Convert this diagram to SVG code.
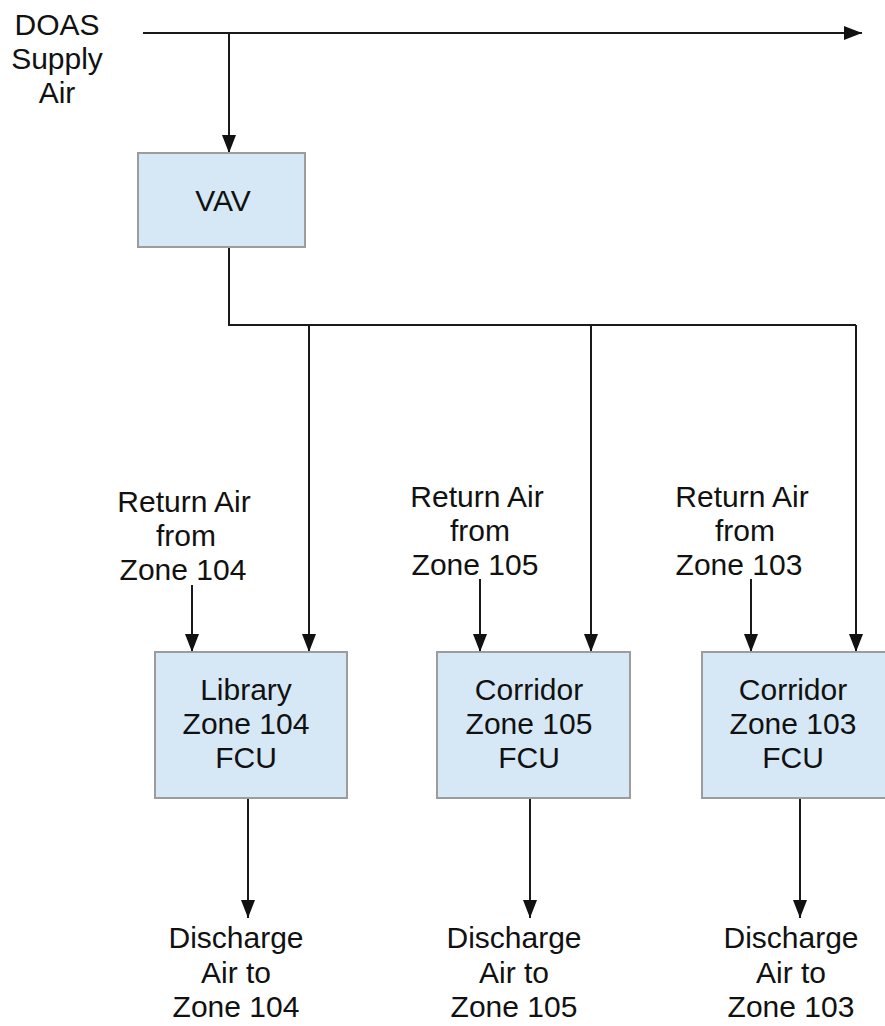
<svg xmlns="http://www.w3.org/2000/svg" width="885" height="1026" viewBox="0 0 885 1026">
<style>
.t{font-family:"Liberation Sans",Arial,sans-serif;font-size:30px;fill:#111;text-anchor:middle}
.box{fill:#d6e8f5;stroke:#9c9c9c;stroke-width:2}
.ln{fill:none;stroke:#1a1a1a;stroke-width:2}
</style>
<defs>
<marker id="ah" markerUnits="userSpaceOnUse" markerWidth="19" markerHeight="14" refX="18" refY="7" orient="auto">
<path d="M0,0 L18,7 L0,14 z" fill="#111"/>
</marker>
</defs>
<rect width="885" height="1026" fill="#fff"/>
<g id="connectors">
<line class="ln" x1="143" y1="33" x2="862" y2="33" stroke="#333" stroke-width="2.5" marker-end="url(#ah)"/>
<line class="ln" x1="229" y1="33" x2="229" y2="153" marker-end="url(#ah)"/>
<polyline class="ln" points="229,247 229,325 856,325"/>
<line class="ln" x1="309" y1="325" x2="309" y2="652" marker-end="url(#ah)"/>
<line class="ln" x1="591" y1="325" x2="591" y2="652" marker-end="url(#ah)"/>
<line class="ln" x1="856" y1="325" x2="856" y2="652" marker-end="url(#ah)"/>
<line class="ln" x1="192" y1="585" x2="192" y2="652" marker-end="url(#ah)"/>
<line class="ln" x1="480" y1="579" x2="480" y2="652" marker-end="url(#ah)"/>
<line class="ln" x1="751" y1="579" x2="751" y2="652" marker-end="url(#ah)"/>
<line class="ln" x1="248" y1="798" x2="248" y2="918" marker-end="url(#ah)"/>
<line class="ln" x1="530" y1="798" x2="530" y2="918" marker-end="url(#ah)"/>
<line class="ln" x1="800" y1="798" x2="800" y2="918" marker-end="url(#ah)"/>
</g>
<g id="doas-label">
<text class="t" x="57" y="35">DOAS</text>
<text class="t" x="57" y="69">Supply</text>
<text class="t" x="57" y="103">Air</text>
</g>
<g id="vav">
<rect class="box" x="138" y="153" width="167" height="94"/>
<text class="t" x="223" y="211">VAV</text>
</g>
<g id="return-104">
<text class="t" x="184" y="512">Return Air</text>
<text class="t" x="186" y="546">from</text>
<text class="t" x="183" y="580">Zone 104</text>
</g>
<g id="return-105">
<text class="t" x="477" y="507">Return Air</text>
<text class="t" x="480" y="541">from</text>
<text class="t" x="475" y="575">Zone 105</text>
</g>
<g id="return-103">
<text class="t" x="742" y="507">Return Air</text>
<text class="t" x="745" y="541">from</text>
<text class="t" x="739" y="575">Zone 103</text>
</g>
<g id="fcu-104">
<rect class="box" x="155" y="652" width="192" height="146"/>
<text class="t" x="246" y="700">Library</text>
<text class="t" x="246" y="734">Zone 104</text>
<text class="t" x="246" y="768">FCU</text>
</g>
<g id="fcu-105">
<rect class="box" x="437" y="652" width="193" height="146"/>
<text class="t" x="529" y="700">Corridor</text>
<text class="t" x="529" y="734">Zone 105</text>
<text class="t" x="529" y="768">FCU</text>
</g>
<g id="fcu-103">
<rect class="box" x="702" y="652" width="193" height="146"/>
<text class="t" x="793" y="700">Corridor</text>
<text class="t" x="793" y="734">Zone 103</text>
<text class="t" x="793" y="768">FCU</text>
</g>
<g id="discharge-104">
<text class="t" x="236" y="948">Discharge</text>
<text class="t" x="236" y="983">Air to</text>
<text class="t" x="236" y="1017">Zone 104</text>
</g>
<g id="discharge-105">
<text class="t" x="514" y="948">Discharge</text>
<text class="t" x="514" y="983">Air to</text>
<text class="t" x="514" y="1017">Zone 105</text>
</g>
<g id="discharge-103">
<text class="t" x="791" y="948">Discharge</text>
<text class="t" x="791" y="983">Air to</text>
<text class="t" x="791" y="1017">Zone 103</text>
</g>
</svg>
